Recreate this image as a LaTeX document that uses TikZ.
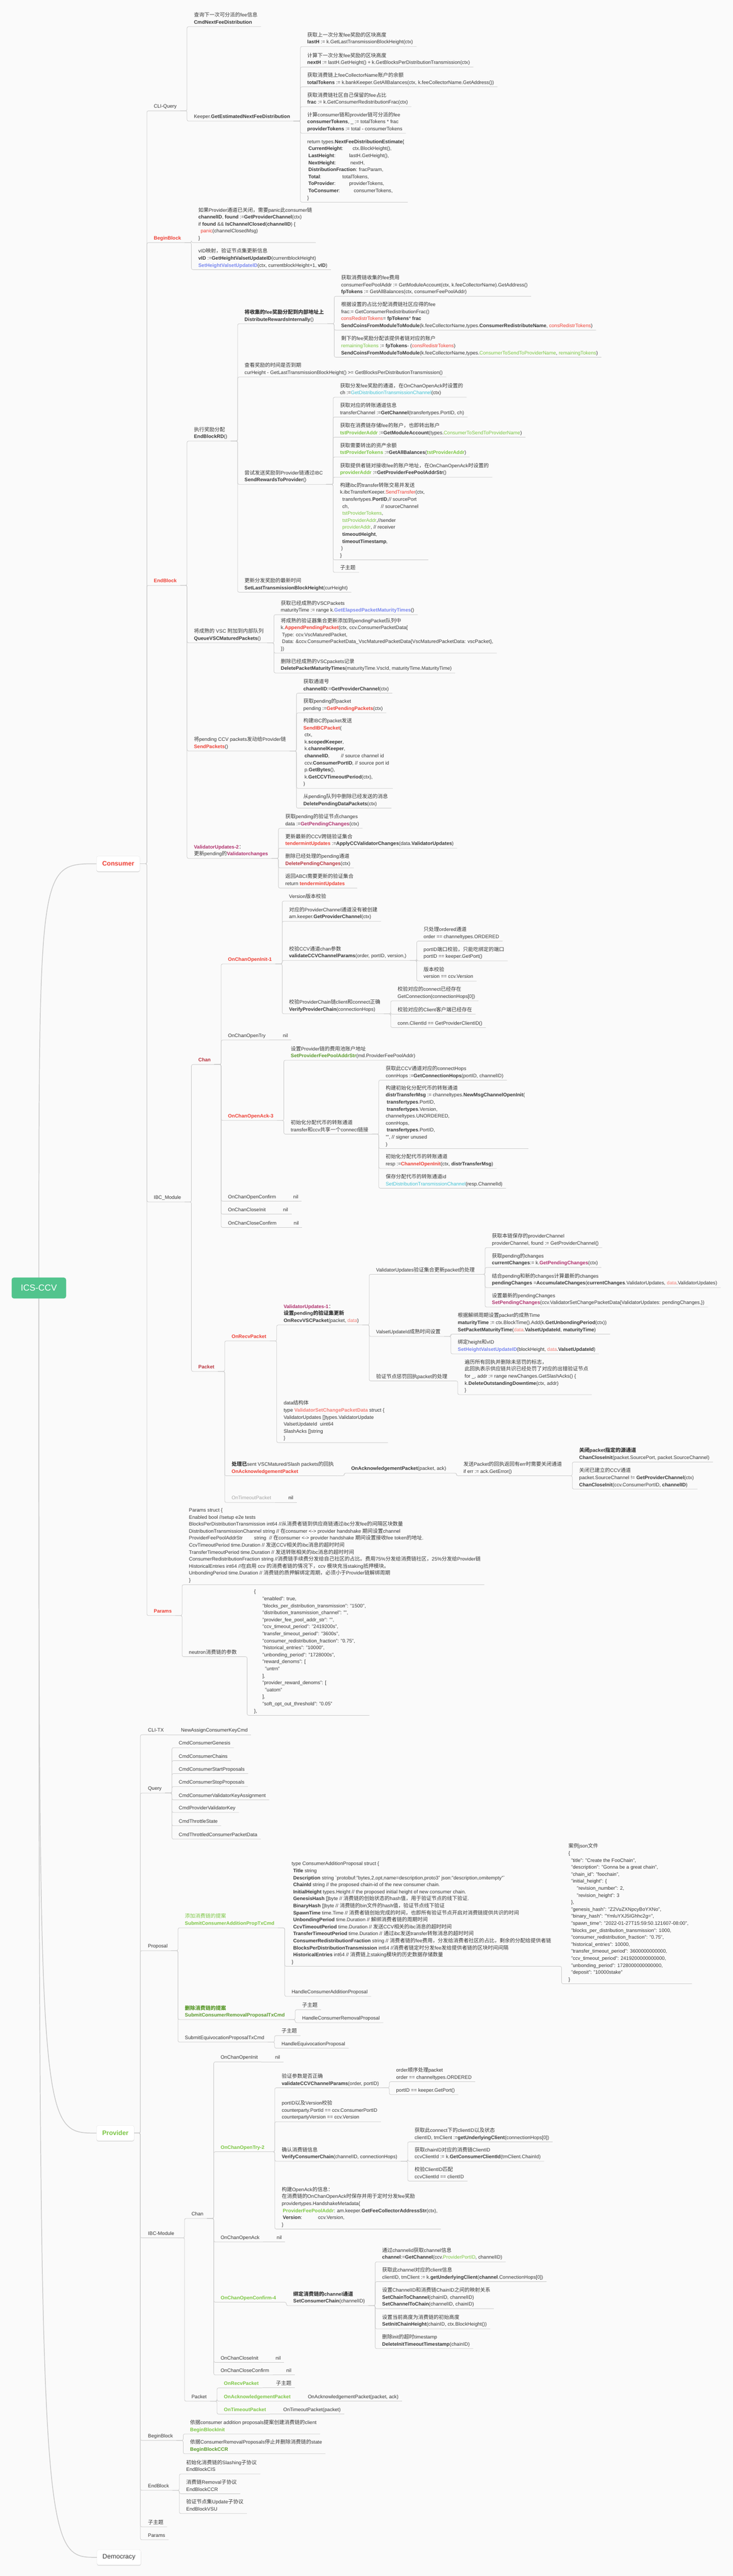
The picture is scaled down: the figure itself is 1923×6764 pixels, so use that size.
\documentclass[tikz,border=0pt]{standalone}
\usepackage{fontspec}
\setmainfont{Liberation Sans}
\newfontfamily\cjkfont[Scale=1.04]{Noto Sans CJK SC}
\XeTeXinterchartokenstate=1
\newXeTeXintercharclass\cjkclass
\count255="3000
\loop \XeTeXcharclass\count255=\cjkclass \ifnum\count255<"303F \advance\count255 by 1 \repeat
\count255="4E00
\loop \XeTeXcharclass\count255=\cjkclass \ifnum\count255<"9FFF \advance\count255 by 1 \repeat
\count255="FF00
\loop \XeTeXcharclass\count255=\cjkclass \ifnum\count255<"FFEF \advance\count255 by 1 \repeat
\XeTeXinterchartoks 0 \cjkclass = {\begingroup\cjkfont}
\XeTeXinterchartoks 4095 \cjkclass = {\begingroup\cjkfont}
\XeTeXinterchartoks \cjkclass 0 = {\endgroup}
\XeTeXinterchartoks \cjkclass 4095 = {\endgroup}
\usetikzlibrary{positioning,shadows}
\definecolor{bgpage}{HTML}{FAFAFA}
\definecolor{ink}{HTML}{383838}
\definecolor{wire}{HTML}{CCCCCC}
\definecolor{boxline}{HTML}{E2E2E2}
\definecolor{muted}{HTML}{A6A6A6}
\definecolor{cred}{HTML}{EE4035}
\definecolor{cdkred}{HTML}{B8343E}
\definecolor{cgreen}{HTML}{7CC644}
\definecolor{cdkgreen}{HTML}{5A9A2C}
\definecolor{ccyan}{HTML}{44C3D5}
\definecolor{cmag}{HTML}{B0336E}
\definecolor{cpink}{HTML}{F08078}
\definecolor{cblue}{HTML}{7A88F0}
\definecolor{rootgreen}{HTML}{52C48D}
\newcommand\kw[1]{\textbf{#1}}
\newcommand\kred[1]{\textcolor{cred}{\textbf{#1}}}
\newcommand\tred[1]{\textcolor{cred}{#1}}
\newcommand\kdkred[1]{\textcolor{cdkred}{\textbf{#1}}}
\newcommand\kgreen[1]{\textcolor{cgreen}{\textbf{#1}}}
\newcommand\tgreen[1]{\textcolor{cgreen}{#1}}
\newcommand\kdkgreen[1]{\textcolor{cdkgreen}{\textbf{#1}}}
\newcommand\tcyan[1]{\textcolor{ccyan}{#1}}
\newcommand\kcyan[1]{\textcolor{ccyan}{\textbf{#1}}}
\newcommand\kmag[1]{\textcolor{cmag}{\textbf{#1}}}
\newcommand\tpink[1]{\textcolor{cpink}{#1}}
\newcommand\kpink[1]{\textcolor{cpink}{\textbf{#1}}}
\newcommand\kblue[1]{\textcolor{cblue}{\textbf{#1}}}
\tikzset{
  topic/.style={anchor=south west, align=left, inner xsep=9pt, inner ysep=3pt,
    text depth=4pt, text=ink, font=\fontsize{13}{18.4}\selectfont},
  kid/.style={topic, xshift=27pt},
  link/.style={draw=wire, line width=1.1pt, rounded corners=4pt},
  branch/.style={anchor=west, draw=boxline, fill=white, rounded corners=5pt,
    inner xsep=15pt, minimum height=40pt, font=\fontsize{17}{20}\selectfont\bfseries,
    drop shadow={shadow xshift=0pt, shadow yshift=-2pt, fill=black, opacity=0.12}},
  hubbox/.style={fill=rootgreen, text=white, rounded corners=6pt, minimum width=143pt,
    minimum height=55pt, font=\fontsize{23}{26}\selectfont},
  hubcurve/.style={draw=wire, line width=2pt},
}
\begin{document}
\begin{tikzpicture}[x=1pt,y=-1pt]
\path[use as bounding box, fill=bgpage] (0,0) rectangle (1923,6764);

\node[branch, text=cred] (consumer) at (253,2268) {Consumer};
\node[branch, text=cgreen] (provider) at (253,5601) {Provider};
\node[branch, text=ink, font=\fontsize{17}{20}\selectfont] (democracy) at (254,6715) {Democracy};
\coordinate (hub) at (102,3382);
\draw[hubcurve] (hub) .. controls (hub |- consumer.west) .. (consumer.west);
\draw[hubcurve] (hub) .. controls (hub |- provider.west) .. (provider.west);
\draw[hubcurve] (hub) .. controls (hub |- democracy.west) .. (democracy.west);
\node[hubbox] (root) at (hub) {ICS-CCV};

\node[kid] (cq) at (consumer.east |- 0,291) {CLI-Query};
\node[kid] (cbb) at (consumer.east |- 0,637) {\kred{BeginBlock}};
\node[kid] (ceb) at (consumer.east |- 0,1537) {\kred{EndBlock}};
\node[kid] (cibc) at (consumer.east |- 0,3156) {IBC\_Module};
\node[kid] (cpar) at (consumer.east |- 0,4242) {\kred{Params}};
\foreach \c in {cq,cbb,ceb,cibc,cpar} \draw[link] (consumer.east) -- ++(18,0) |- (\c.south east);

\node[kid] (cq1) at (cq.south east |- 0,70) {查询下一次可分派的fee信息\\\kw{CmdNextFeeDistribution}};
\node[kid] (cq2) at (cq.south east |- 0,318) {Keeper.\kw{GetEstimatedNextFeeDistribution}};
\foreach \c in {cq1,cq2} \draw[link] (cq.south east) -- ++(18,0) |- (\c.south east);

\node[kid] (fe1) at (cq2.south east |- 0,122) {获取上一次分发fee奖励的区块高度\\\kw{lastH} := k.GetLastTransmissionBlockHeight(ctx)};
\node[kid] (fe2) at (cq2.south east |- 0,176) {计算下一次分发fee奖励的区块高度\\\kw{nextH} := lastH.GetHeight() + k.GetBlocksPerDistributionTransmission(ctx)};
\node[kid] (fe3) at (cq2.south east |- 0,228) {获取消费链上feeCollectorName账户的余额\\\kw{totalTokens} := k.bankKeeper.GetAllBalances(ctx, k.feeCollectorName.GetAddress())};
\node[kid] (fe4) at (cq2.south east |- 0,280) {获取消费链社区自己保留的fee占比\\\kw{frac} := k.GetConsumerRedistributionFrac(ctx)};
\node[kid] (fe5) at (cq2.south east |- 0,350) {计算consumer链和provider链可分派的fee\\\kw{consumerTokens}, \_ := totalTokens * frac\\\kw{providerTokens} := total - consumerTokens};
\node[kid] (fe6) at (cq2.south east |- 0,531) {return types.\kw{NextFeeDistributionEstimate}\{\\
\hspace*{3pt}\makebox[116pt][l]{\kw{CurrentHeight}:}ctx.BlockHeight(),\\
\hspace*{3pt}\makebox[107pt][l]{\kw{LastHeight}:}lastH.GetHeight(),\\
\hspace*{3pt}\makebox[110pt][l]{\kw{NextHeight}:}nextH,\\
\hspace*{3pt}\kw{DistributionFraction}: fracParam,\\
\hspace*{3pt}\makebox[89pt][l]{\kw{Total}:}totalTokens,\\
\hspace*{3pt}\makebox[107pt][l]{\kw{ToProvider}:}providerTokens,\\
\hspace*{3pt}\makebox[119pt][l]{\kw{ToConsumer}:}consumerTokens,\\
\}};
\foreach \c in {fe1,fe2,fe3,fe4,fe5,fe6} \draw[link] (cq2.south east) -- ++(18,0) |- (\c.south east);

\node[kid] (bb1) at (cbb.south east |- 0,637) {如果Provider通道已关闭，需要panic此consumer链\\\kw{channelID}, \kw{found} :=\kw{GetProviderChannel}(ctx)\\if \kw{found} \&\& \kw{IsChannelClosed}(\kw{channelID}) \{\\\hspace*{6pt}\tred{panic}(channelClosedMsg)\\\}};
\node[kid] (bb2) at (cbb.south east |- 0,708) {vID映射，验证节点集更新信息\\\kw{vID} :=\kw{GetHeightValsetUpdateID}(currentblockHeight)\\\kblue{SetHeightValsetUpdateID}(ctx, currentblockHeight+1, \kw{vID})};
\foreach \c in {bb1,bb2} \draw[link] (cbb.south east) -- ++(18,0) |- (\c.south east);

\node[kid] (rd) at (ceb.south east |- 0,1158) {执行奖励分配\\\kw{EndBlockRD}()};
\node[kid] (qv) at (ceb.south east |- 0,1688) {将成熟的 VSC 附加到内部队列\\\kw{QueueVSCMaturedPackets}()};
\node[kid] (sp) at (ceb.south east |- 0,1972) {将pending CCV packets发动给Provider链\\\kred{SendPackets}()};
\node[kid] (vu2) at (ceb.south east |- 0,2254) {\kmag{ValidatorUpdates-2}：\\更新pending的\kmag{Validatorchanges}};
\foreach \c in {rd,qv,sp,vu2} \draw[link] (ceb.south east) -- ++(18,0) |- (\c.south east);

\node[kid] (dri) at (rd.south east |- 0,850) {\kw{将收集的fee奖励分配到内部地址上}\\\kw{DistributeRewardsInternally}()};
\node[kid] (chk) at (rd.south east |- 0,990) {查看奖励的时间是否到期\\curHeight - GetLastTransmissionBlockHeight() >= GetBlocksPerDistributionTransmission()};
\node[kid] (srp) at (rd.south east |- 0,1272) {尝试发送奖励到Provider链通过IBC\\\kw{SendRewardsToProvider}()};
\node[kid] (slt) at (rd.south east |- 0,1555) {更新分发奖励的最新时间\\\kw{SetLastTransmissionBlockHeight}(curHeight)};
\foreach \c in {dri,chk,srp,slt} \draw[link] (rd.south east) -- ++(18,0) |- (\c.south east);

\node[kid] (di1) at (dri.south east |- 0,778) {获取消费链收集的fee费用\\consumerFeePoolAddr := GetModuleAccount(ctx, k.feeCollectorName).GetAddress()\\\kw{fpTokens} := GetAllBalances(ctx, consumerFeePoolAddr)};
\node[kid] (di2) at (dri.south east |- 0,867) {根据设置的占比分配消费链社区应得的fee\\frac:= GetConsumerRedistributionFrac()\\\tred{consRedistrTokens}= \kw{fpTokens}* \kw{frac}\\\kw{SendCoinsFromModuleToModule}(k.feeCollectorName,types.\kw{ConsumerRedistributeName}, \tred{consRedistrTokens})};
\node[kid] (di3) at (dri.south east |- 0,938) {剩下的fee奖励分配该提供者链对应的账户\\\tgreen{remainingTokens} := \kw{fpTokens}- (\tred{consRedistrTokens})\\\kw{SendCoinsFromModuleToModule}(k.feeCollectorName,types.\tgreen{ConsumerToSendToProviderName}, \tgreen{remainingTokens})};
\foreach \c in {di1,di2,di3} \draw[link] (dri.south east) -- ++(18,0) |- (\c.south east);

\node[kid] (sr1) at (srp.south east |- 0,1043) {获取分发fee奖励的通道，在OnChanOpenAck时设置的\\ch :=\tcyan{GetDistributionTransmissionChannel}(ctx)};
\node[kid] (sr2) at (srp.south east |- 0,1095) {获取对应的转账通道信息\\transferChannel :=\kw{GetChannel}(transfertypes.PortID, ch)};
\node[kid] (sr3) at (srp.south east |- 0,1148) {获取在消费链存储fee的账户，也即转出账户\\\kgreen{tstProviderAddr} :=\kw{GetModuleAccount}(types.\tgreen{ConsumerToSendToProviderName})};
\node[kid] (sr4) at (srp.south east |- 0,1200) {获取需要转出的资产余额\\\kgreen{tstProviderTokens} :=\kw{GetAllBalances}(\kgreen{tstProviderAddr})};
\node[kid] (sr5) at (srp.south east |- 0,1253) {获取提供者链对接收fee的账户地址，在OnChanOpenAck时设置的\\\kgreen{providerAddr} :=\kw{GetProviderFeePoolAddrStr}()};
\node[kid] (sr6) at (srp.south east |- 0,1470) {构建ibc的transfer转账交易并发送\\k.ibcTransferKeeper.\tred{SendTransfer}(ctx,\\
\hspace*{6pt}transfertypes.\kw{PortID},// sourcePort\\
\hspace*{6pt}ch,\hspace*{84pt}// sourceChannel\\
\hspace*{6pt}\tgreen{tstProviderTokens},\\
\hspace*{6pt}\tgreen{tstProviderAddr},//sender\\
\hspace*{6pt}\tgreen{providerAddr}, // receiver\\
\hspace*{6pt}\kw{timeoutHeight},\\
\hspace*{6pt}\kw{timeoutTimestamp},\\
\hspace*{3pt})\\
\}};
\node[kid] (sr7) at (srp.south east |- 0,1503) {子主题};
\foreach \c in {sr1,sr2,sr3,sr4,sr5,sr6,sr7} \draw[link] (srp.south east) -- ++(18,0) |- (\c.south east);

\node[kid] (qv1) at (qv.south east |- 0,1614) {获取已经成熟的VSCPackets\\maturityTime := range k.\kblue{GetElapsedPacketMaturityTimes}()};
\node[kid] (qv2) at (qv.south east |- 0,1715) {将成熟的验证器集合更新添加到pendingPacket队列中\\k.\kred{AppendPendingPacket}(ctx, ccv.ConsumerPacketData\{\\
\hspace*{3pt}Type: ccv.VscMaturedPacket,\\
\hspace*{3pt}Data: \&ccv.ConsumerPacketData\_VscMaturedPacketData\{VscMaturedPacketData: vscPacket\},\\
\})};
\node[kid] (qv3) at (qv.south east |- 0,1767) {删除已经成熟的VSCpackets记录\\\kw{DeletePacketMaturityTimes}(maturityTime.VscId, maturityTime.MaturityTime)};
\foreach \c in {qv1,qv2,qv3} \draw[link] (qv.south east) -- ++(18,0) |- (\c.south east);

\node[kid] (sp1) at (sp.south east |- 0,1820) {获取通道号\\\kw{channelID}:=\kw{GetProviderChannel}(ctx)};
\node[kid] (sp2) at (sp.south east |- 0,1872) {获取pending的packet\\pending :=\kred{GetPendingPackets}(ctx)};
\node[kid] (sp3) at (sp.south east |- 0,2070) {构建IBC的packet发送\\\kred{SendIBCPacket}(\\
\hspace*{3pt}ctx,\\
\hspace*{3pt}k.\kw{scopedKeeper},\\
\hspace*{3pt}k.\kw{channelKeeper},\\
\hspace*{3pt}\kw{channelID},\hspace*{30pt}// source channel id\\
\hspace*{3pt}ccv.\kw{ConsumerPortID}, // source port id\\
\hspace*{3pt}p.\kw{GetBytes}(),\\
\hspace*{3pt}k.\kw{GetCCVTimeoutPeriod}(ctx),\\
)};
\node[kid] (sp4) at (sp.south east |- 0,2122) {从pending队列中删除已经发送的消息\\\kw{DeletePendingDataPackets}(ctx)};
\foreach \c in {sp1,sp2,sp3,sp4} \draw[link] (sp.south east) -- ++(18,0) |- (\c.south east);

\node[kid] (vc1) at (vu2.south east |- 0,2175) {获取pending的验证节点changes\\data :=\kmag{GetPendingChanges}(ctx)};
\node[kid] (vc2) at (vu2.south east |- 0,2227) {更新最新的CCV跨链验证集合\\\kred{tendermintUpdates} :=\kw{ApplyCCValidatorChanges}(data.\kw{ValidatorUpdates})};
\node[kid] (vc3) at (vu2.south east |- 0,2279) {删除已经处理的pending通道\\\kdkred{DeletePendingChanges}(ctx)};
\node[kid] (vc4) at (vu2.south east |- 0,2332) {返回ABCI需要更新的验证集合\\return \kred{tendermintUpdates}};
\foreach \c in {vc1,vc2,vc3,vc4} \draw[link] (vu2.south east) -- ++(18,0) |- (\c.south east);

\node[kid] (cchan) at (cibc.south east |- 0,2795) {\kdkred{Chan}};
\node[kid] (cpkt) at (cibc.south east |- 0,3601) {\kdkred{Packet}};
\foreach \c in {cchan,cpkt} \draw[link] (cibc.south east) -- ++(18,0) |- (\c.south east);

\node[kid] (oi1) at (cchan.south east |- 0,2531) {\kred{OnChanOpenInit-1}};
\node[kid] (otry) at (cchan.south east |- 0,2731) {OnChanOpenTry};
\node[kid] (oa3) at (cchan.south east |- 0,2942) {\kred{OnChanOpenAck-3}};
\node[kid] (ocf) at (cchan.south east |- 0,3154) {OnChanOpenConfirm};
\node[kid] (oci) at (cchan.south east |- 0,3188) {OnChanCloseInit};
\node[kid] (occ) at (cchan.south east |- 0,3223) {OnChanCloseConfirm};
\foreach \c in {oi1,otry,oa3,ocf,oci,occ} \draw[link] (cchan.south east) -- ++(18,0) |- (\c.south east);
\foreach \p in {otry,ocf,oci,occ} {
  \node[kid] (\p nil) at (\p.south east) {nil};
  \draw[link] (\p.south east) -- (\p nil.south east);
}

\node[kid] (ov1) at (oi1.south east |- 0,2366) {Version版本校验};
\node[kid] (ov2) at (oi1.south east |- 0,2419) {对应的ProviderChannel通道没有被创建\\am.keeper.\kw{GetProviderChannel}(ctx)};
\node[kid] (ov3) at (oi1.south east |- 0,2522) {校验CCV通道chan参数\\\kw{validateCCVChannelParams}(order, portID, version,)};
\node[kid] (ov4) at (oi1.south east |- 0,2662) {校验ProviderChain链client和connect正确\\\kw{VerifyProviderChain}(connectionHops)};
\foreach \c in {ov1,ov2,ov3,ov4} \draw[link] (oi1.south east) -- ++(18,0) |- (\c.south east);

\node[kid] (vp1) at (ov3.south east |- 0,2471) {只处理ordered通道\\order == channeltypes.ORDERED};
\node[kid] (vp2) at (ov3.south east |- 0,2523) {portID端口校验，只能吃绑定的端口\\portID == keeper.GetPort()};
\node[kid] (vp3) at (ov3.south east |- 0,2576) {版本校验\\version == ccv.Version};
\foreach \c in {vp1,vp2,vp3} \draw[link] (ov3.south east) -- ++(18,0) |- (\c.south east);

\node[kid] (vv1) at (ov4.south east |- 0,2628) {校验对应的connect已经存在\\GetConnection(connectionHops[0])};
\node[kid] (vv2) at (ov4.south east |- 0,2663) {校验对应的Client客户端已经存在};
\node[kid] (vv3) at (ov4.south east |- 0,2698) {conn.ClientId == GetProviderClientID()};
\foreach \c in {vv1,vv2,vv3} \draw[link] (ov4.south east) -- ++(18,0) |- (\c.south east);

\node[kid] (oa1) at (oa3.south east |- 0,2784) {设置Provider链的费用池账户地址\\\kdkgreen{SetProviderFeePoolAddrStr}(md.ProviderFeePoolAddr)};
\node[kid] (oa2) at (oa3.south east |- 0,2978) {初始化分配代币的转账通道\\transfer和ccv共享一个connect链接};
\foreach \c in {oa1,oa2} \draw[link] (oa3.south east) -- ++(18,0) |- (\c.south east);

\node[kid] (dt1) at (oa2.south east |- 0,2836) {获取此CCV通道对应的connectHops\\connHops :=\kw{GetConnectionHops}(portID, channelID)};
\node[kid] (dt2) at (oa2.south east |- 0,3016) {构建初始化分配代币的转账通道\\\kw{distrTransferMsg} := channeltypes.\kw{NewMsgChannelOpenInit}(\\
\hspace*{3pt}\kw{transfertypes}.PortID,\\
\hspace*{3pt}\kw{transfertypes}.Version,\\
channeltypes.UNORDERED,\\
connHops,\\
\hspace*{3pt}\kw{transfertypes}.PortID,\\
"", // signer unused\\
)};
\node[kid] (dt3) at (oa2.south east |- 0,3068) {初始化分配代币的转账通道\\resp :=\kred{ChannelOpenInit}(ctx, \kw{distrTransferMsg})};
\node[kid] (dt4) at (oa2.south east |- 0,3120) {保存分配代币的转账通道id\\\tcyan{SetDistributionTransmissionChannel}(resp.ChannelId)};
\foreach \c in {dt1,dt2,dt3,dt4} \draw[link] (oa2.south east) -- ++(18,0) |- (\c.south east);

\node[kid] (orp) at (cpkt.south east |- 0,3521) {\kred{OnRecvPacket}};
\node[kid] (oap) at (cpkt.south east |- 0,3875) {\kw{处理已}sent VSCMatured/Slash packets的回执\\\kred{OnAcknowledgementPacket}};
\node[kid, text=muted] (otp) at (cpkt.south east |- 0,3945) {OnTimeoutPacket};
\foreach \c in {orp,oap,otp} \draw[link] (cpkt.south east) -- ++(18,0) |- (\c.south east);
\node[kid] (otpnil) at (otp.south east) {nil};
\draw[link] (otp.south east) -- (otpnil.south east);

\node[kid] (vu1) at (orp.south east |- 0,3479) {\kmag{ValidatorUpdates-1}：\\\kw{设置pending的验证集更新}\\\kw{OnRecvVSCPacket}(packet, \tpink{data})};
\node[kid] (vsd) at (orp.south east |- 0,3788) {data结构体\\type \kpink{ValidatorSetChangePacketData} struct \{\\ValidatorUpdates []types.ValidatorUpdate\\ValsetUpdateId \hspace*{4pt}uint64\\SlashAcks []string\\\}};
\foreach \c in {vu1,vsd} \draw[link] (orp.south east) -- ++(18,0) |- (\c.south east);

\node[kid] (rv1) at (vu1.south east |- 0,3346) {ValidatorUpdates验证集合更新packet的处理};
\node[kid] (rv2) at (vu1.south east |- 0,3509) {ValsetUpdateId成熟时间设置};
\node[kid] (rv3) at (vu1.south east |- 0,3626) {验证节点惩罚回执packet的处理};
\foreach \c in {rv1,rv2,rv3} \draw[link] (vu1.south east) -- ++(18,0) |- (\c.south east);

\node[kid] (ru1) at (rv1.south east |- 0,3276) {获取本链保存的providerChannel\\providerChannel, found := GetProviderChannel()};
\node[kid] (ru2) at (rv1.south east |- 0,3328) {获取pending的changes\\\kw{currentChanges}:= k.\kmag{GetPendingChanges}(ctx)};
\node[kid] (ru3) at (rv1.south east |- 0,3381) {结合pending和新的changes计算最新的changes\\\kw{pendingChanges} =\kw{AccumulateChanges}(\kw{currentChanges}.ValidatorUpdates, \tpink{data}.ValidatorUpdates)};
\node[kid] (ru4) at (rv1.south east |- 0,3432) {设置最新的pendingChanges\\\kmag{SetPendingChanges}(ccv.ValidatorSetChangePacketData\{ValidatorUpdates: pendingChanges,\})};
\foreach \c in {ru1,ru2,ru3,ru4} \draw[link] (rv1.south east) -- ++(18,0) |- (\c.south east);

\node[kid] (rm1) at (rv2.south east |- 0,3503) {根据解绑周期设置packet的成熟Time\\\kw{maturityTime} := ctx.BlockTime().Add(k.\kw{GetUnbondingPeriod}(ctx))\\\kw{SetPacketMaturityTime}(\tpink{data}.\kw{ValsetUpdateId}, \kw{maturityTime})};
\node[kid] (rm2) at (rv2.south east |- 0,3555) {绑定height和vID\\\kblue{SetHeightValsetUpdateID}(blockHeight, \tpink{data}.\kw{ValsetUpdateId})};
\foreach \c in {rm1,rm2} \draw[link] (rv2.south east) -- ++(18,0) |- (\c.south east);

\node[kid] (rs1) at (rv3.south east |- 0,3662) {遍历所有回执并删除未惩罚的标志，\\此回执表示供应链共识已经处罚了对应的出错验证节点\\for \_, addr := range newChanges.GetSlashAcks() \{\\k.\kw{DeleteOutstandingDowntime}(ctx, addr)\\\}};
\draw[link] (rv3.south east) -- ++(18,0) |- (rs1.south east);

\node[kid] (ak1) at (oap.south east |- 0,3868) {\kw{OnAcknowledgementPacket}(packet, ack)};
\draw[link] (oap.south east) -- ++(18,0) |- (ak1.south east);
\node[kid] (ak2) at (ak1.south east |- 0,3875) {发送Packet的回执返回有err时需要关闭通道\\if err := ack.GetError()};
\draw[link] (ak1.south east) -- ++(18,0) |- (ak2.south east);
\node[kid] (ak3) at (ak2.south east |- 0,3839) {\kw{关闭packet指定的源通道}\\\kw{ChanCloseInit}(packet.SourcePort, packet.SourceChannel)};
\node[kid] (ak4) at (ak2.south east |- 0,3910) {关闭已建立的CCV通道\\packet.SourceChannel != \kw{GetProviderChannel}(ctx)\\\kw{ChanCloseInit}(ccv.ConsumerPortID, \kw{channelID})};
\foreach \c in {ak3,ak4} \draw[link] (ak2.south east) -- ++(18,0) |- (\c.south east);

\node[kid] (pst) at (cpar.south east |- 0,4161) {Params struct \{\\
Enabled bool //setup e2e tests\\
BlocksPerDistributionTransmission int64 //从消费者链到供应商链通过ibc分发fee的间隔区块数量\\
DistributionTransmissionChannel string // 在consumer <-> provider handshake 期间设置channel\\
ProviderFeePoolAddrStr\hspace*{30pt}string\hspace*{8pt}// 在consumer <-> provider handshake 期间设置接收fee token的地址.\\
CcvTimeoutPeriod time.Duration // 发送CCV相关的ibc消息的超时时间\\
TransferTimeoutPeriod time.Duration // 发送转账相关的ibc消息的超时时间\\
ConsumerRedistributionFraction string //消费链手续费分发给自己社区的占比。费用75\%分发给消费链社区，25\%分发给Provider链\\
HistoricalEntries int64 //在启用 ccv 的消费者链的情况下，ccv 模块充当staking抵押模块。\\
UnbondingPeriod time.Duration // 消费链的质押解绑定周期，必须小于Provider链解绑周期\\
\}};
\node[kid] (pnt) at (cpar.south east |- 0,4350) {neutron消费链的参数};
\foreach \c in {pst,pnt} \draw[link] (cpar.south east) -- ++(18,0) |- (\c.south east);
\node[kid] (pjs) at (pnt.south east |- 0,4504) {\{\\
\hspace*{22pt}"enabled": true,\\
\hspace*{22pt}"blocks\_per\_distribution\_transmission": "1500",\\
\hspace*{22pt}"distribution\_transmission\_channel": "",\\
\hspace*{22pt}"provider\_fee\_pool\_addr\_str": "",\\
\hspace*{22pt}"ccv\_timeout\_period": "2419200s",\\
\hspace*{22pt}"transfer\_timeout\_period": "3600s",\\
\hspace*{22pt}"consumer\_redistribution\_fraction": "0.75",\\
\hspace*{22pt}"historical\_entries": "10000",\\
\hspace*{22pt}"unbonding\_period": "1728000s",\\
\hspace*{22pt}"reward\_denoms": [\\
\hspace*{29pt}"untrn"\\
\hspace*{22pt}],\\
\hspace*{22pt}"provider\_reward\_denoms": [\\
\hspace*{29pt}"uatom"\\
\hspace*{22pt}],\\
\hspace*{22pt}"soft\_opt\_out\_threshold": "0.05"\\
\},};
\draw[link] (pnt.south east) -- ++(18,0) |- (pjs.south east);

\node[kid] (ptx) at (provider.east |- 0,4555) {CLI-TX};
\node[kid] (pq) at (provider.east |- 0,4708) {Query};
\node[kid] (pprop) at (provider.east |- 0,5122) {Proposal};
\node[kid] (pibc) at (provider.east |- 0,5876) {IBC-Module};
\node[kid] (pbb) at (provider.east |- 0,6408) {BeginBlock};
\node[kid] (peb) at (provider.east |- 0,6539) {EndBlock};
\node[kid] (psub) at (provider.east |- 0,6635) {子主题};
\node[kid] (ppar) at (provider.east |- 0,6669) {Params};
\foreach \c in {ptx,pq,pprop,pibc,pbb,peb,psub,ppar} \draw[link] (provider.east) -- ++(16,0) |- (\c.south east);

\node[kid] (ptx1) at (ptx.south east) {NewAssignConsumerKeyCmd};
\draw[link] (ptx.south east) -- (ptx1.south east);

\node[kid] (pq1) at (pq.south east |- 0,4589) {CmdConsumerGenesis};
\node[kid] (pq2) at (pq.south east |- 0,4623) {CmdConsumerChains};
\node[kid] (pq3) at (pq.south east |- 0,4657) {CmdConsumerStartProposals};
\node[kid] (pq4) at (pq.south east |- 0,4691) {CmdConsumerStopProposals};
\node[kid] (pq5) at (pq.south east |- 0,4726) {CmdConsumerValidatorKeyAssignment};
\node[kid] (pq6) at (pq.south east |- 0,4759) {CmdProviderValidatorKey};
\node[kid] (pq7) at (pq.south east |- 0,4794) {CmdThrottleState};
\node[kid] (pq8) at (pq.south east |- 0,4829) {CmdThrottledConsumerPacketData};
\foreach \c in {pq1,pq2,pq3,pq4,pq5,pq6,pq7,pq8} \draw[link] (pq.south east) -- ++(18,0) |- (\c.south east);

\node[kid] (pa) at (pprop.south east |- 0,5062) {\tgreen{添加消费链的提案}\\\kgreen{SubmitConsumerAdditionPropTxCmd}};
\node[kid] (pr) at (pprop.south east |- 0,5303) {\kdkgreen{删除消费链的提案}\\\kdkgreen{SubmitConsumerRemovalProposalTxCmd}};
\node[kid] (pe) at (pprop.south east |- 0,5362) {SubmitEquivocationProposalTxCmd};
\foreach \c in {pa,pr,pe} \draw[link] (pprop.south east) -- ++(18,0) |- (\c.south east);

\node[kid] (pas) at (pa.south east |- 0,5163) {type ConsumerAdditionProposal struct \{\\
\hspace*{4pt}\kw{Title} string\\
\hspace*{4pt}\kw{Description} string \textasciigrave protobuf:"bytes,2,opt,name=description,proto3" json:"description,omitempty"\textasciigrave\\
\hspace*{4pt}\kw{ChainId} string // the proposed chain-id of the new consumer chain.\\
\hspace*{4pt}\kw{InitialHeight} types.Height // the proposed initial height of new consumer chain.\\
\hspace*{4pt}\kw{GenesisHash} []byte // 消费链的创始状态的hash值，用于验证节点的线下验证.\\
\hspace*{4pt}\kw{BinaryHash} []byte // 消费链的bin文件的hash值，验证节点线下验证\\
\hspace*{4pt}\kw{SpawnTime} time.Time // 消费者链创始完成的时间，也即所有验证节点开启对消费链提供共识的时间\\
\hspace*{4pt}\kw{UnbondingPeriod} time.Duration // 解绑消费者链的周期时间\\
\hspace*{4pt}\kw{CcvTimeoutPeriod} time.Duration // 发送CCV相关的ibc消息的超时时间\\
\hspace*{4pt}\kw{TransferTimeoutPeriod} time.Duration // 通过ibc发送transfer转账消息的超时时间\\
\hspace*{4pt}\kw{ConsumerRedistributionFraction} string // 消费者链的fee费用，分发给消费者社区的占比，剩余的分配给提供者链\\
\hspace*{4pt}\kw{BlocksPerDistributionTransmission} int64 //消费者链定时分发fee发给提供者链的区块时间间隔\\
\hspace*{4pt}\kw{HistoricalEntries} int64 // 消费链上staking模块的历史数据存储数量\\
\}};
\node[kid] (pah) at (pa.south east |- 0,5242) {HandleConsumerAdditionProposal};
\foreach \c in {pas,pah} \draw[link] (pa.south east) -- ++(18,0) |- (\c.south east);
\node[kid] (paj) at (pas.south east |- 0,5209) {案例json文件\\
\{\\
\hspace*{7pt}"title": "Create the FooChain",\\
\hspace*{7pt}"description": "Gonna be a great chain",\\
\hspace*{7pt}"chain\_id": "foochain",\\
\hspace*{7pt}"initial\_height": \{\\
\hspace*{22pt}"revision\_number": 2,\\
\hspace*{22pt}"revision\_height": 3\\
\hspace*{7pt}\},\\
\hspace*{7pt}"genesis\_hash": "Z2VuZXNpcyBoYXNo",\\
\hspace*{7pt}"binary\_hash": "YmluYXJ5IGhhc2g=",\\
\hspace*{7pt}"spawn\_time": "2022-01-27T15:59:50.121607-08:00",\\
\hspace*{7pt}"blocks\_per\_distribution\_transmission": 1000,\\
\hspace*{7pt}"consumer\_redistribution\_fraction": "0.75",\\
\hspace*{7pt}"historical\_entries": 10000,\\
\hspace*{7pt}"transfer\_timeout\_period": 3600000000000,\\
\hspace*{7pt}"ccv\_timeout\_period": 2419200000000000,\\
\hspace*{7pt}"unbonding\_period": 1728000000000000,\\
\hspace*{7pt}"deposit": "10000stake"\\
\}};
\draw[link] (pas.south east) -- ++(18,0) |- (paj.south east);

\node[kid] (pr1) at (pr.south east |- 0,5277) {子主题};
\node[kid] (pr2) at (pr.south east |- 0,5311) {HandleConsumerRemovalProposal};
\foreach \c in {pr1,pr2} \draw[link] (pr.south east) -- ++(18,0) |- (\c.south east);
\node[kid] (pe1) at (pe.south east |- 0,5345) {子主题};
\node[kid] (pe2) at (pe.south east |- 0,5378) {HandleEquivocationProposal};
\foreach \c in {pe1,pe2} \draw[link] (pe.south east) -- ++(18,0) |- (\c.south east);

\node[kid] (pch) at (pibc.south east |- 0,5825) {Chan};
\node[kid] (ppk) at (pibc.south east |- 0,6305) {Packet};
\foreach \c in {pch,ppk} \draw[link] (pibc.south east) -- ++(18,0) |- (\c.south east);

\node[kid] (pi) at (pch.south east |- 0,5414) {OnChanOpenInit};
\node[kid] (pt2) at (pch.south east |- 0,5650) {\kgreen{OnChanOpenTry-2}};
\node[kid] (pak) at (pch.south east |- 0,5887) {OnChanOpenAck};
\node[kid] (pc4) at (pch.south east |- 0,6045) {\kgreen{OnChanOpenConfirm-4}};
\node[kid] (pci) at (pch.south east |- 0,6203) {OnChanCloseInit};
\node[kid] (pcc) at (pch.south east |- 0,6236) {OnChanCloseConfirm};
\foreach \c in {pi,pt2,pak,pc4,pci,pcc} \draw[link] (pch.south east) -- ++(18,0) |- (\c.south east);
\foreach \p in {pi,pak,pci,pcc} {
  \node[kid] (\p nil) at (\p.south east) {nil};
  \draw[link] (\p.south east) -- (\p nil.south east);
}

\node[kid] (tv1) at (pt2.south east |- 0,5482) {验证参数是否正确\\\kw{validateCCVChannelParams}(order, portID)};
\node[kid] (tv2) at (pt2.south east |- 0,5571) {portID以及Version校验\\counterparty.PortId == ccv.ConsumerPortID\\counterpartyVersion == ccv.Version};
\node[kid] (tv3) at (pt2.south east |- 0,5675) {确认消费链信息\\\kw{VerifyConsumerChain}(channelID, connectionHops)};
\node[kid] (tv4) at (pt2.south east |- 0,5853) {构建OpenAck的信息：\\在消费链的OnChanOpenAck时保存并用于定时分发fee奖励\\providertypes.HandshakeMetadata\{\\
\hspace*{3pt}\kgreen{ProviderFeePoolAddr}: am.keeper.\kw{GetFeeCollectorAddressStr}(ctx),\\
\hspace*{3pt}\kw{Version}:\hspace*{42pt}ccv.Version,\\
\}};
\foreach \c in {tv1,tv2,tv3,tv4} \draw[link] (pt2.south east) -- ++(18,0) |- (\c.south east);

\node[kid] (tv11) at (tv1.south east |- 0,5466) {order顺序处理packet\\order == channeltypes.ORDERED};
\node[kid] (tv12) at (tv1.south east |- 0,5500) {portID == keeper.GetPort()};
\foreach \c in {tv11,tv12} \draw[link] (tv1.south east) -- ++(18,0) |- (\c.south east);

\node[kid] (tv31) at (tv3.south east |- 0,5624) {获取此connect下的clientID以及状态\\clientID, tmClient :=\kw{getUnderlyingClient}(connectionHops[0])};
\node[kid] (tv32) at (tv3.south east |- 0,5675) {获取chainID对应的消费链ClientID\\ccvClientId := k.\kw{GetConsumerClientId}(tmClient.ChainId)};
\node[kid] (tv33) at (tv3.south east |- 0,5727) {校验ClientID匹配\\ccvClientId == clientID};
\foreach \c in {tv31,tv32,tv33} \draw[link] (tv3.south east) -- ++(18,0) |- (\c.south east);

\node[kid] (cf1) at (pc4.south east |- 0,6054) {\kw{绑定消费链的channel通道}\\\kw{SetConsumerChain}(channelID)};
\draw[link] (pc4.south east) -- ++(18,0) |- (cf1.south east);
\node[kid] (cf11) at (cf1.south east |- 0,5939) {通过channelid获取channel信息\\\kw{channel}:=\kw{GetChannel}(ccv.\tgreen{ProviderPortID}, channelID)};
\node[kid] (cf12) at (cf1.south east |- 0,5991) {获取此channel对应的client信息\\clientID, tmClient := k.\kw{getUnderlyingClient}(\kw{channel}.ConnectionHops[0])};
\node[kid] (cf13) at (cf1.south east |- 0,6062) {设置ChannelID和消费链ChainID之间的映射关系\\\kw{SetChainToChannel}(chainID, channelID)\\\kw{SetChannelToChain}(channelID, chainID)};
\node[kid] (cf14) at (cf1.south east |- 0,6115) {设置当前高度为消费链的初始高度\\\kw{SetInitChainHeight}(chainID, ctx.BlockHeight())};
\node[kid] (cf15) at (cf1.south east |- 0,6167) {删除init的超时timestamp\\\kw{DeleteInitTimeoutTimestamp}(chainID)};
\foreach \c in {cf11,cf12,cf13,cf14,cf15} \draw[link] (cf1.south east) -- ++(18,0) |- (\c.south east);

\node[kid] (pk1) at (ppk.south east |- 0,6270) {\kgreen{OnRecvPacket}};
\node[kid] (pk2) at (ppk.south east |- 0,6305) {\kgreen{OnAcknowledgementPacket}};
\node[kid] (pk3) at (ppk.south east |- 0,6339) {\kgreen{OnTimeoutPacket}};
\foreach \c in {pk1,pk2,pk3} \draw[link] (ppk.south east) -- ++(18,0) |- (\c.south east);
\node[kid] (pk1c) at (pk1.south east) {子主题};
\node[kid] (pk2c) at (pk2.south east) {OnAcknowledgementPacket(packet, ack)};
\node[kid] (pk3c) at (pk3.south east) {OnTimeoutPacket(packet)};
\draw[link] (pk1.south east) -- (pk1c.south east);
\draw[link] (pk2.south east) -- (pk2c.south east);
\draw[link] (pk3.south east) -- (pk3c.south east);

\node[kid] (bi) at (pbb.south east |- 0,6391) {依据consumer addition proposals提案创建消费链的client\\\kgreen{BeginBlockInit}};
\node[kid] (bc) at (pbb.south east |- 0,6443) {依据ConsumerRemovalProposals停止并删除消费链的state\\\kdkgreen{BeginBlockCCR}};
\foreach \c in {bi,bc} \draw[link] (pbb.south east) -- ++(18,0) |- (\c.south east);

\node[kid] (e1) at (peb.south east |- 0,6496) {初始化消费链的Slashing子协议\\EndBlockCIS};
\node[kid] (e2) at (peb.south east |- 0,6548) {消费链Removal子协议\\EndBlockCCR};
\node[kid] (e3) at (peb.south east |- 0,6600) {验证节点集Update子协议\\EndBlockVSU};
\foreach \c in {e1,e2,e3} \draw[link] (peb.south east) -- ++(18,0) |- (\c.south east);
\end{tikzpicture}
\end{document}
